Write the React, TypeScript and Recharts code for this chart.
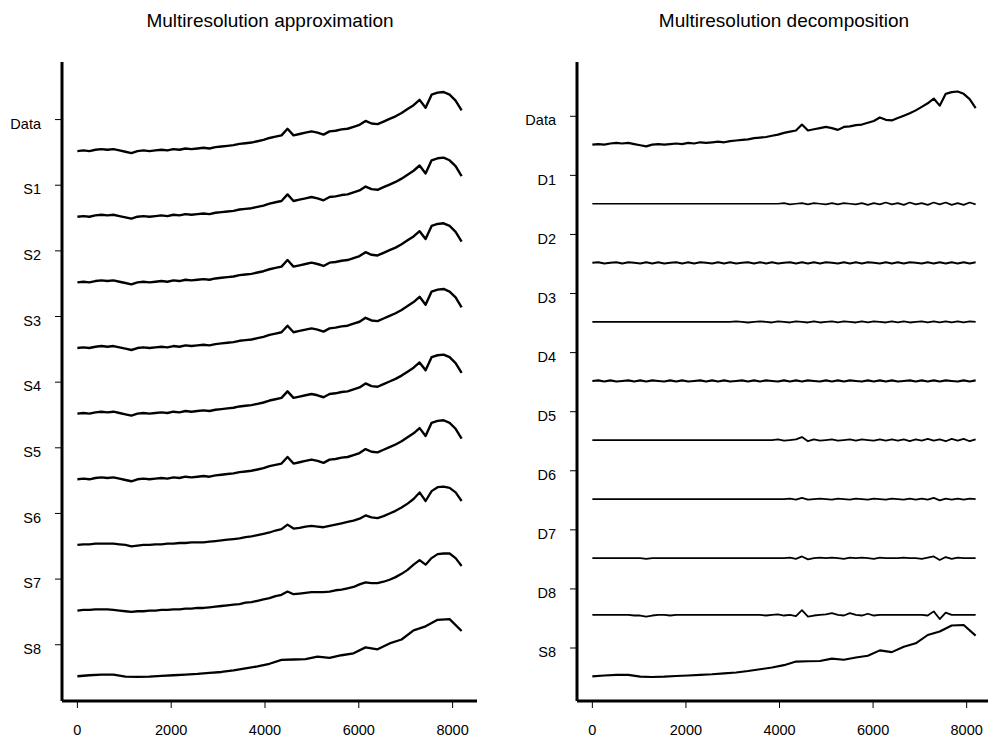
import React from "react";
import { LineChart, Line, XAxis, YAxis } from "recharts";

const xTicks = [0, 2000, 4000, 6000, 8000];
const approxLabels = ["Data", "S1", "S2", "S3", "S4", "S5", "S6", "S7", "S8"];
const decompLabels = ["Data", "D1", "D2", "D3", "D4", "D5", "D6", "D7", "D8", "S8"];

// values are in hundredths of one row height, measured from the start of each curve
// fine series are sampled every 128 points, coarse ones every 256
const rawData = [
  0, 1, 0, 2, 3, 2, 3, 1, -1, -3,
  0, 1, 0, 1, 2, 1, 3, 2, 4, 3,
  4, 5, 4, 6, 7, 8, 9, 11, 12, 13,
  15, 17, 20, 22, 24, 34, 24, 26, 28, 30,
  28, 25, 30, 31, 33, 34, 37, 40, 46, 42,
  41, 45, 49, 53, 58, 64, 70, 78, 66, 86,
  89, 90, 86, 77, 62,
];
const s6 = [
  0, 1, 1, 2, 2, 2, 2, 1, 0, -2,
  -1, 0, 0, 1, 1, 2, 2, 3, 3, 4,
  4, 4, 5, 6, 7, 8, 9, 10, 12, 13,
  15, 17, 19, 22, 24, 31, 25, 26, 28, 29,
  28, 27, 29, 31, 33, 35, 37, 40, 45, 42,
  41, 44, 48, 52, 57, 63, 70, 80, 67, 82,
  88, 89, 87, 80, 67,
];
const s7 = [
  0, 1, 1, 2, 2, 2, 1, 0, -1, -2,
  -1, -1, 0, 0, 1, 1, 2, 2, 3, 3,
  4, 4, 5, 6, 7, 8, 9, 10, 12, 13,
  15, 17, 19, 22, 24, 29, 25, 26, 27, 28,
  28, 28, 29, 31, 32, 34, 36, 40, 43, 42,
  42, 44, 47, 51, 56, 62, 70, 77, 70, 80,
  86, 87, 87, 80, 68,
];
const s8 = [
  0, 1.5, 2.5, 2.5, -0.5, -1, -0.5, 0.5, 1.5, 2.5,
  3.5, 5, 6.5, 9, 12, 15, 19, 25, 25.5, 26,
  30, 28, 32, 35, 44, 41, 50, 56, 70, 76,
  86, 87, 69,
];
const d1 = [
  0, 0, 0, 0, 0, 0, 0, 0, 0, 0,
  0, 0, 0, 0, 0, 0, 0, 0, 0, 0,
  0, 0, 0, 0, 0, 0, 0, 0, 0, 0,
  0, 0, 1, -1, 0, 1, -1, 1, 0, -1,
  1, -1, 1, 0, -1, 1, -2, 1, -1, 2,
  -1, 1, -2, 2, -1, 1, -2, 2, -1, 2,
  -2, 1, -2, 2, -1,
];
const d2 = [
  0, 1, -1, 0, 1, -1, 1, 0, -1, 1,
  -1, 1, -1, 0, 1, -1, 1, -1, 1, 0,
  -1, 1, -1, 1, -1, 0, 1, -1, 1, -1,
  1, -1, 0, 1, -1, 1, -1, 1, -1, 1,
  0, -1, 1, -1, 1, -1, 1, 0, -1, 1,
  -1, 1, -1, 1, 0, -1, 1, -1, 1, -1,
  1, -1, 1, -1, 1,
];
const d3 = [
  0, 0, 0, 0, 0, 0, 0, 0, 0, 0,
  0, 0, 0, 0, 0, 0, 0, 0, 0, 0,
  0, 0, 0, 0, 1, 0, -1, 0, 1, 0,
  -1, 1, 0, -1, 1, 0, -1, 1, -1, 0,
  1, -1, 1, 0, -1, 1, -1, 1, 0, -1,
  1, -1, 1, -1, 0, 1, -1, 1, -1, 1,
  -1, 1, -1, 1, 0,
];
const d4 = [
  0, 1, -1, 1, -1, 0, 1, -1, 1, -1,
  1, 0, -1, 1, -1, 1, -1, 0, 1, -1,
  1, -1, 1, -1, 0, 1, -1, 1, -1, 1,
  0, -1, 1, -1, 1, -1, 1, 0, -1, 1,
  -1, 1, -1, 1, 0, -1, 1, -1, 1, -1,
  1, -1, 0, 1, -1, 1, -1, 1, -1, 1,
  0, -1, 1, -1, 1,
];
const d5 = [
  0, 0, 0, 0, 0, 0, 0, 0, 0, 0,
  0, 0, 0, 0, 0, 0, 0, 0, 0, 0,
  0, 0, 0, 0, 0, 0, 0, 0, 0, 0,
  0, 1, -1, 0, 1, 5, -2, 1, -1, 0,
  1, -1, 0, 1, -1, 1, 0, -1, 1, -1,
  1, -1, 1, -2, 1, -1, 2, -1, 1, -2,
  2, -1, 2, -2, 1,
];
const d6 = [
  0, 0, 0, 0, 0, 0, 0, 0, 0, 0,
  0, 0, 0, 0, 0, 0, 0, 0, 0, 0,
  0, 0, 0, 0, 0, 0, 0, 0, 0, 0,
  0, 0, 0, 1, -1, 2, -1, 0, 1, 0,
  -1, 1, 0, -1, 1, 0, -1, 1, 0, -1,
  1, 0, -1, 1, -1, 1, -1, 2, -2, 1,
  -1, 1, -1, 1, 0,
];
const d7 = [
  0, 0, 0, 0, 0, 0, 0, 0, 0, -1,
  0, 0, 0, 0, 0, 0, 0, 0, 0, 0,
  0, 0, 0, 0, 0, 0, 0, 0, 0, 0,
  0, 0, 0, 1, -1, 3, -2, 0, 1, 0,
  1, 0, -1, 1, 0, 1, 0, -1, 1, 0,
  0, 0, 1, 0, 0, -1, 1, 3, -3, 2,
  -1, 1, 0, 0, 0,
];
const d8 = [
  0, 0, 0, 0, 0, 0, 0, -1, -1, -3,
  -1, 0, 0, -1, 0, 0, 0, 0, 0, 0,
  0, 0, 0, 0, 0, 0, 0, 0, 0, -1,
  0, 1, -1, 0, -2, 8, -3, -1, 0, 1,
  3, 0, -1, 3, 0, -1, 2, -1, 0, 0,
  0, 0, 0, 0, 0, 0, -1, 6, -7, 4,
  0, 0, 0, 0, 0,
];

type Row = { values: number[]; step: number; width: number; drop?: number };

const approxRows: Row[] = [
  { values: rawData, step: 128, width: 2.4 },
  { values: rawData, step: 128, width: 2.4 },
  { values: rawData, step: 128, width: 2.4 },
  { values: rawData, step: 128, width: 2.4 },
  { values: rawData, step: 128, width: 2.4 },
  { values: rawData, step: 128, width: 2.4 },
  { values: s6, step: 128, width: 2.3 },
  { values: s7, step: 128, width: 2.3 },
  { values: s8, step: 256, width: 2.3 },
];

const decompRows: Row[] = [
  { values: rawData, step: 128, width: 2.2 },
  { values: d1, step: 128, width: 1.7 },
  { values: d2, step: 128, width: 2 },
  { values: d3, step: 128, width: 1.8 },
  { values: d4, step: 128, width: 2.1 },
  { values: d5, step: 128, width: 1.8 },
  { values: d6, step: 128, width: 1.8 },
  { values: d7, step: 128, width: 1.8 },
  { values: d8, step: 128, width: 1.8, drop: 0.44 },
  { values: s8, step: 256, width: 2.1 },
];

const FONT = '"Liberation Sans", Arial, Helvetica, sans-serif';

function rowPoints(row: Row, level: number) {
  const drop = row.drop ?? 0.48;
  return row.values.map((v, i) => ({ t: i * row.step, y: level - drop + v / 100 }));
}

function Panel({
  title,
  labels,
  rows,
  left,
  width,
  yAxisWidth,
  yDomain,
  titleX,
}: {
  title: string;
  labels: string[];
  rows: Row[];
  left: number;
  width: number;
  yAxisWidth: number;
  yDomain: [number, number];
  titleX: number;
}) {
  const n = labels.length;
  const yTicks = labels.map((_, i) => n - i);
  const YTick = (props: any) => {
    const { x, y, payload } = props;
    return (
      <text x={x} y={y + 4} dy="0.355em" textAnchor="end" fontSize={14.5} fill="#000" fontFamily={FONT}>
        {labels[n - payload.value]}
      </text>
    );
  };
  return (
    <>
      <div
        style={{
          position: "absolute",
          left: titleX - 200,
          width: 400,
          top: 11,
          textAlign: "center",
          fontSize: 19,
          lineHeight: "19px",
          fontFamily: FONT,
          color: "#000",
        }}
      >
        {title}
      </div>
      <div style={{ position: "absolute", left, top: 0 }}>
        <LineChart width={width} height={745} margin={{ top: 62, right: 0, bottom: 0, left: 0 }}>
          <XAxis
            type="number"
            dataKey="t"
            domain={[-328, 8520]}
            allowDataOverflow
            ticks={xTicks}
            interval={0}
            height={44}
            tickSize={7}
            tickMargin={17}
            axisLine={{ stroke: "#000", strokeWidth: 3 }}
            tickLine={{ stroke: "#000", strokeWidth: 1 }}
            tick={{ fill: "#000", fontSize: 14.5, fontFamily: FONT }}
          />
          <YAxis
            type="number"
            dataKey="y"
            domain={yDomain}
            allowDataOverflow
            ticks={yTicks}
            interval={0}
            width={yAxisWidth}
            tickSize={7}
            tickMargin={14}
            axisLine={{ stroke: "#000", strokeWidth: 3 }}
            tickLine={{ stroke: "#000", strokeWidth: 1 }}
            tick={<YTick />}
          />
          {rows.map((row, i) => (
            <Line
              key={labels[i] + i}
              data={rowPoints(row, n - i)}
              dataKey="y"
              type="linear"
              stroke="#000"
              strokeWidth={row.width}
              strokeLinejoin="round"
              dot={false}
              activeDot={false}
              isAnimationActive={false}
            />
          ))}
        </LineChart>
      </div>
    </>
  );
}

export default function App() {
  return (
    <div
      style={{
        position: "absolute",
        left: 0,
        top: 0,
        width: 988,
        height: 745,
        overflow: "hidden",
        background: "#fff",
      }}
    >
      <Panel
        title="Multiresolution approximation"
        labels={approxLabels}
        rows={approxRows}
        left={0}
        width={477}
        yAxisWidth={62}
        yDomain={[0.143, 9.877]}
        titleX={270}
      />
      <Panel
        title="Multiresolution decomposition"
        labels={decompLabels}
        rows={decompRows}
        left={494}
        width={497}
        yAxisWidth={83}
        yDomain={[0.103, 10.919]}
        titleX={784}
      />
    </div>
  );
}
